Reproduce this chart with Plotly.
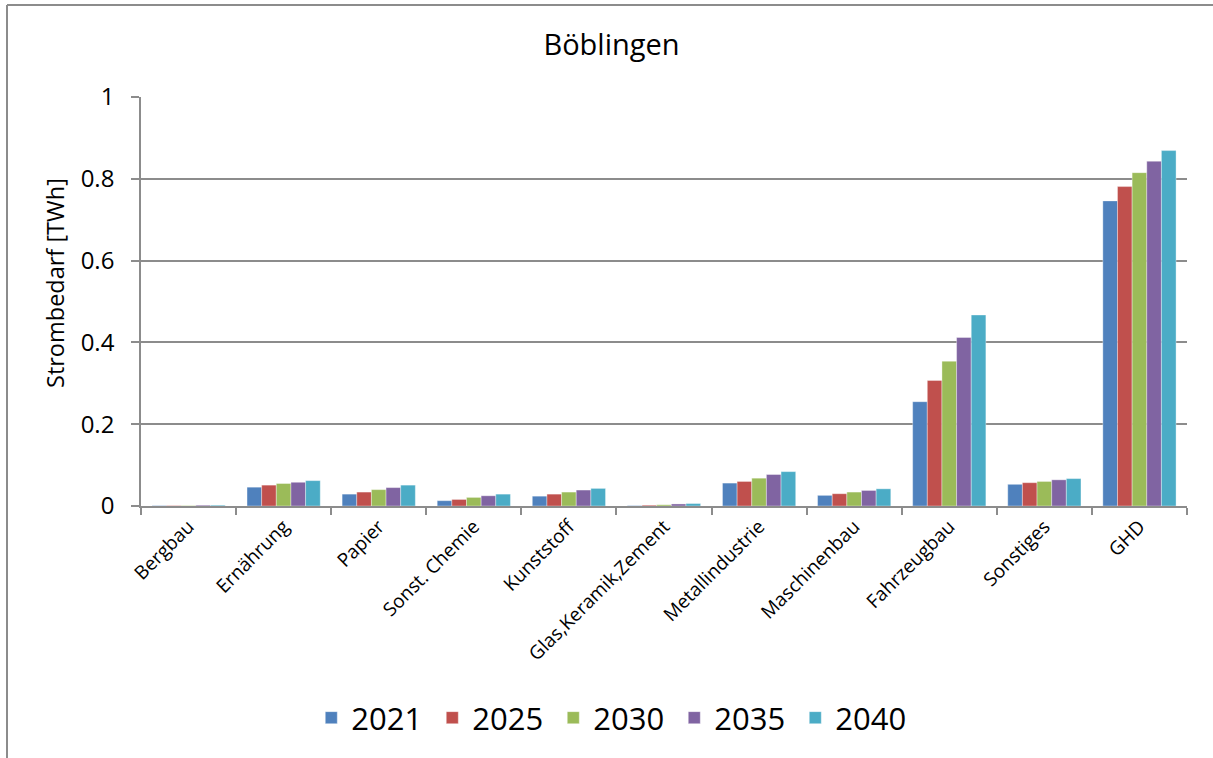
import plotly.graph_objects as go

# Electricity demand by sector, district Böblingen (TWh)
sectors = ["Bergbau", "Ernährung", "Papier", "Sonst. Chemie", "Kunststoff",
           "Glas,Keramik,Zement", "Metallindustrie", "Maschinenbau",
           "Fahrzeugbau", "Sonstiges", "GHD"]

years = ["2021", "2025", "2030", "2035", "2040"]

v2021 = [0.001, 0.046, 0.029, 0.013, 0.024, 0.001, 0.056, 0.026, 0.255, 0.053, 0.746]
v2025 = [0.001, 0.051, 0.034, 0.016, 0.029, 0.002, 0.060, 0.030, 0.307, 0.057, 0.781]
v2030 = [0.001, 0.055, 0.040, 0.021, 0.034, 0.003, 0.068, 0.034, 0.354, 0.060, 0.815]
v2035 = [0.002, 0.058, 0.045, 0.025, 0.039, 0.005, 0.077, 0.038, 0.412, 0.064, 0.843]
v2040 = [0.002, 0.062, 0.051, 0.029, 0.043, 0.006, 0.084, 0.042, 0.467, 0.067, 0.869]

series = [v2021, v2025, v2030, v2035, v2040]
colors = ["#4F81BD", "#C0504D", "#9BBB59", "#8064A2", "#4BACC6"]

FONT = "Open Sans"
GRID = "#8c8c8c"
W, H = 1213, 758
L, R, T, B = 141, 26, 97, 252
PW, PH = W - L - R, H - T - B

fig = go.Figure()
for year, vals, col in zip(years, series, colors):
    fig.add_trace(go.Bar(
        x=sectors, y=vals, name=year,
        marker=dict(color=col, line=dict(color="rgba(255,255,255,0.6)", width=0.6)),
    ))

fig.update_layout(
    width=W, height=H,
    paper_bgcolor="white", plot_bgcolor="white",
    margin=dict(l=L, r=R, t=T, b=B),
    barmode="group", bargap=0.23, bargroupgap=0,
    font=dict(family=FONT, color="#000000"),
    title=dict(text="Böblingen", x=611.5 / W, xref="container", xanchor="center",
               y=1 - 45 / H, yref="container", yanchor="middle",
               font=dict(family=FONT, size=29, color="#000000")),
    legend=dict(orientation="h", x=0.506, xref="container", xanchor="center",
                y=1 - 718 / H, yref="container", yanchor="middle",
                font=dict(family=FONT, size=31, color="#000000"),
                traceorder="normal", itemwidth=30, entrywidth=76),
    showlegend=True,
)

fig.update_yaxes(
    range=[0, 1], tickvals=[0, 0.2, 0.4, 0.6, 0.8, 1],
    ticktext=["0", "0.2", "0.4", "0.6", "0.8", "1"],
    showgrid=True, gridcolor=GRID, gridwidth=1.6,
    showline=True, linecolor=GRID, linewidth=1.6,
    ticks="outside", ticklen=8, tickcolor=GRID, tickwidth=1.6,
    ticklabelstandoff=12,
    tickfont=dict(family=FONT, size=24, color="#000000"),
    zeroline=False,
)

fig.update_xaxes(
    type="category", tickson="boundaries",
    showline=True, linecolor=GRID, linewidth=2,
    ticks="outside", ticklen=7, tickcolor=GRID, tickwidth=1.6,
    tickangle=-45, tickfont=dict(family=FONT, size=19, color="#000000"),
    showgrid=False,
)

# Y-axis title
fig.add_annotation(text="Strombedarf [TWh]", textangle=-90,
                   xref="paper", yref="paper",
                   x=(55 - L) / PW, y=(H - B - 283) / PH,
                   xanchor="center", yanchor="middle", showarrow=False,
                   font=dict(family=FONT, size=23.5, color="#000000"))

# Chart frame: top and left edges
frame_top = 1 + (T - 5) / PH
frame_left = (7 - L) / PW
fig.add_shape(type="line", xref="paper", yref="paper",
              x0=frame_left, x1=1 + R / PW + 0.01, y0=frame_top, y1=frame_top,
              line=dict(color=GRID, width=2))
fig.add_shape(type="line", xref="paper", yref="paper",
              x0=frame_left, x1=frame_left, y0=frame_top, y1=-(B + 5) / PH,
              line=dict(color=GRID, width=2))

fig.write_html("out.html")
